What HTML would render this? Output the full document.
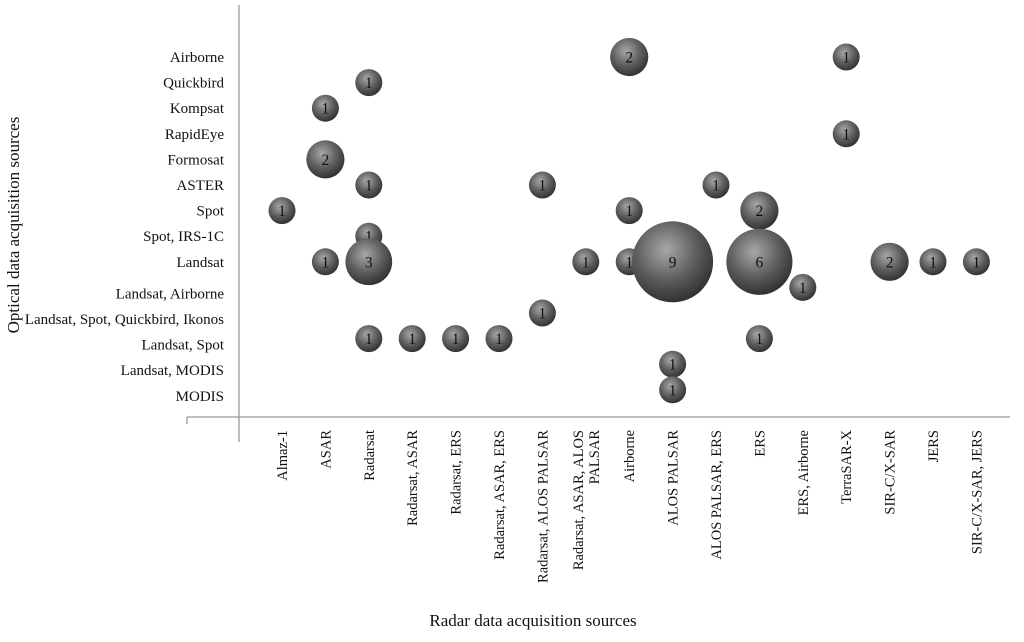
<!DOCTYPE html>
<html><head><meta charset="utf-8"><style>
body{margin:0;background:#fff;}
svg text{font-family:"Liberation Serif",serif;fill:#111;}
</style></head><body>
<svg id="chart" width="1024" height="637" xmlns="http://www.w3.org/2000/svg">
<defs>
<radialGradient id="bg" cx="0.42" cy="0.35" r="0.68">
<stop offset="0" stop-color="#a8a8a8"/><stop offset="0.55" stop-color="#5e5e5e"/><stop offset="1" stop-color="#2e2e2e"/>
</radialGradient>
</defs>
<line x1="239" y1="5" x2="239" y2="442" stroke="#999" stroke-width="1.3"/>
<line x1="187" y1="417" x2="1010" y2="417" stroke="#999" stroke-width="1.3"/>
<line x1="187" y1="417" x2="187" y2="424" stroke="#999" stroke-width="1.3"/>
<text transform="translate(19,225) rotate(-90)" text-anchor="middle" font-size="17">Optical data acquisition sources</text>
<text x="533" y="626" text-anchor="middle" font-size="17">Radar data acquisition sources</text>
<g id="g"></g>
</svg>
<script>
const xCats=["Almaz-1","ASAR","Radarsat","Radarsat, ASAR","Radarsat, ERS","Radarsat, ASAR, ERS","Radarsat, ALOS PALSAR","Radarsat, ASAR, ALOS|PALSAR","Airborne","ALOS PALSAR","ALOS PALSAR, ERS","ERS","ERS, Airborne","TerraSAR-X","SIR-C/X-SAR","JERS","SIR-C/X-SAR, JERS"];
const yCats=["Airborne","Quickbird","Kompsat","RapidEye","Formosat","ASTER","Spot","Spot, IRS-1C","Landsat","Landsat, Airborne","Landsat, Spot, Quickbird, Ikonos","Landsat, Spot","Landsat, MODIS","MODIS"];
const bubbleX=["Airborne","TerraSAR-X","Radarsat","ASAR","TerraSAR-X","ASAR","Radarsat","Radarsat, ALOS PALSAR","ALOS PALSAR, ERS","Almaz-1","Airborne","ERS","Radarsat","ASAR","Radarsat","Radarsat, ASAR, ALOS|PALSAR","Airborne","ALOS PALSAR","ERS","SIR-C/X-SAR","JERS","SIR-C/X-SAR, JERS","ERS, Airborne","Radarsat, ALOS PALSAR","Radarsat","Radarsat, ASAR","Radarsat, ERS","Radarsat, ASAR, ERS","ERS","ALOS PALSAR","ALOS PALSAR"];
const bubbleY=["Airborne","Airborne","Quickbird","Kompsat","RapidEye","Formosat","ASTER","ASTER","ASTER","Spot","Spot","Spot","Spot, IRS-1C","Landsat","Landsat","Landsat","Landsat","Landsat","Landsat","Landsat","Landsat","Landsat","Landsat, Airborne","Landsat, Spot, Quickbird, Ikonos","Landsat, Spot","Landsat, Spot","Landsat, Spot","Landsat, Spot","Landsat, Spot","Landsat, MODIS","MODIS"];
const bubbleV=[2,1,1,1,1,2,1,1,1,1,1,2,1,1,3,1,1,9,6,2,1,1,1,1,1,1,1,1,1,1,1];
const NS="http://www.w3.org/2000/svg";
const g=document.getElementById("g");
const xs=c=>282+xCats.indexOf(c)*43.4;
const ys=c=>57+yCats.indexOf(c)*25.6;
const rs=v=>13.5*Math.sqrt(v);
function mk(t,a){const e=document.createElementNS(NS,t);for(const k in a)e.setAttribute(k,a[k]);g.appendChild(e);return e;}
yCats.forEach((c,i)=>{
  const t=mk("text",{x:224,y:ys(c)+(i>=9?6:0)+5,"text-anchor":"end","font-size":"15"});
  t.textContent=c;
  
  
});
xCats.forEach(c=>{
  const lines=c.split("|");const x=xs(c);
  lines.forEach((ln,j)=>{
    const xx=x+5-(lines.length-1)*8+j*16;
    const t=mk("text",{transform:`translate(${xx},430) rotate(-90)`,"text-anchor":"end","font-size":"14.5"});
    t.textContent=ln;
    
    
  });
});
bubbleV.forEach((v,i)=>{
  const cx=xs(bubbleX[i]),cy=ys(bubbleY[i]);
  const c=mk("circle",{cx:cx,cy:cy,r:rs(v),fill:"url(#bg)"});
  
  
  const t=mk("text",{x:cx,y:cy+5.5,"text-anchor":"middle","font-size":"15.5"});
  t.textContent=v;
  
  
});
</script>
</body></html>
